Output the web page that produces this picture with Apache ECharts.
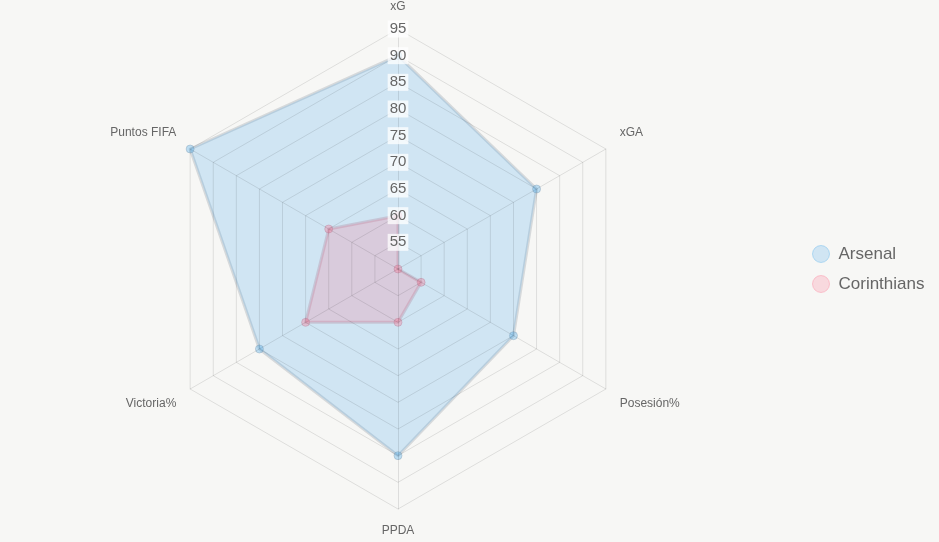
<!DOCTYPE html>
<html>
<head>
<meta charset="utf-8">
<script src="https://cdn.jsdelivr.net/npm/echarts@6/dist/echarts.min.js"></script>
<style>
html,body{margin:0;padding:0;background:#f7f7f5;}
#chart{width:939px;height:542px;}
</style>
</head>
<body>
<div id="chart"></div>
<script>
// Axes in clockwise order starting at the top
const axes = ['xG', 'xGA', 'Posesión%', 'PPDA', 'Victoria%', 'Puntos FIFA'];
const arsenal = [90, 80, 75, 85, 80, 95];
const corinthians = [60, 50, 55, 60, 70, 65];
const seriesNames = ['Arsenal', 'Corinthians'];
const scaleMin = 50, scaleMax = 95, scaleSteps = 9;

// ECharts places indicators counter-clockwise; reorder so they run clockwise
const order = [0, 5, 4, 3, 2, 1];
const reorder = arr => order.map(i => arr[i]);

const upNames = ['xGA', 'Puntos FIFA'];
const downNames = ['Posesión%', 'Victoria%'];

const indicator = reorder(axes).map((name, k) => {
  const ind = { name: name, min: scaleMin, max: scaleMax };
  if (k === 0) {
    ind.axisLabel = {
      show: true,
      showMinLabel: false,
      margin: 0,
      align: 'center',
      verticalAlign: 'middle',
      color: '#666',
      fontSize: 15,
      fontFamily: 'Liberation Sans, Arial, sans-serif',
      backgroundColor: 'rgba(255,255,255,0.75)',
      padding: [1, 2]
    };
  }
  return ind;
});

const nameFont = { color: '#666', fontSize: 12, fontFamily: 'Liberation Sans, Arial, sans-serif' };

const chart = echarts.init(document.getElementById('chart'));
chart.setOption({
  backgroundColor: '#f7f7f5',
  animation: false,
  legend: {
    orient: 'vertical',
    left: 807,
    top: 240,
    itemWidth: 17,
    itemHeight: 17,
    itemGap: 12,
    icon: 'circle',
    textStyle: { color: '#666', fontSize: 17, fontFamily: 'Liberation Sans, Arial, sans-serif', padding: [0, 0, 0, 4] },
    data: [
      { name: seriesNames[0], itemStyle: { color: 'rgba(54,162,235,0.2)', borderColor: 'rgba(54,162,235,0.3)', borderWidth: 1 } },
      { name: seriesNames[1], itemStyle: { color: 'rgba(255,99,132,0.2)', borderColor: 'rgba(255,99,132,0.3)', borderWidth: 1 } }
    ]
  },
  radar: {
    z: 3,
    center: [398, 269],
    radius: 240,
    startAngle: 90,
    shape: 'polygon',
    splitNumber: scaleSteps,
    nameGap: 16,
    indicator: indicator,
    axisName: Object.assign({
      formatter: function (name) {
        if (upNames.indexOf(name) >= 0) return '{up|' + name + '}';
        if (downNames.indexOf(name) >= 0) return '{down|' + name + '}';
        return name;
      },
      rich: {
        up: Object.assign({ padding: [0, 0, 16, 0] }, nameFont),
        down: Object.assign({ padding: [14, 0, 0, 0] }, nameFont)
      }
    }, nameFont),
    axisLine: { lineStyle: { color: 'rgba(0,0,0,0.1)', width: 1 } },
    splitLine: { lineStyle: { color: 'rgba(0,0,0,0.1)', width: 1 } },
    splitArea: { show: false },
    axisTick: { show: false }
  },
  series: [{
    type: 'radar',
    z: 2,
    symbol: 'circle',
    symbolSize: 8,
    data: [
      {
        name: seriesNames[0],
        value: reorder(arsenal),
        areaStyle: { color: 'rgba(54,162,235,0.2)', opacity: 1 },
        lineStyle: { color: 'rgba(165,172,180,0.4)', width: 3 },
        itemStyle: { color: 'rgba(54,162,235,0.3)', borderColor: 'rgba(130,155,175,0.4)', borderWidth: 1 }
      },
      {
        name: seriesNames[1],
        value: reorder(corinthians),
        areaStyle: { color: 'rgba(255,99,132,0.2)', opacity: 1 },
        lineStyle: { color: 'rgba(180,150,170,0.4)', width: 3 },
        itemStyle: { color: 'rgba(255,99,132,0.3)', borderColor: 'rgba(180,130,155,0.4)', borderWidth: 1 }
      }
    ]
  }]
});
</script>
</body>
</html>
